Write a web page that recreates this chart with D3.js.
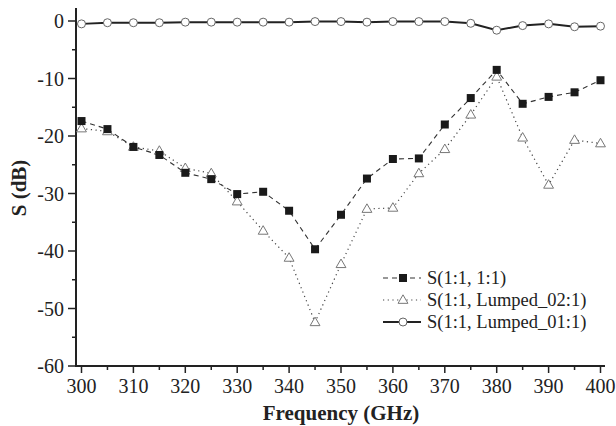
<!DOCTYPE html>
<html><head><meta charset="utf-8">
<script src="https://cdn.jsdelivr.net/npm/d3@7"></script>
<style>html,body{margin:0;padding:0;background:#fff}svg{display:block}</style>
</head><body>
<svg id="c" width="616" height="426"></svg>
<script>
const freqs = [300,305,310,315,320,325,330,335,340,345,350,355,360,365,370,375,380,385,390,395,400];
const s11 = [-17.4,-18.8,-21.9,-23.3,-26.4,-27.5,-30.1,-29.7,-33.0,-39.7,-33.7,-27.4,-24.0,-23.9,-18.0,-13.4,-8.5,-14.4,-13.2,-12.4,-10.3];
const lumped02 = [-18.7,-19.2,-21.9,-22.6,-25.6,-26.5,-31.4,-36.5,-41.2,-52.4,-42.3,-32.7,-32.5,-26.5,-22.3,-16.3,-9.7,-20.3,-28.5,-20.7,-21.3];
const lumped01 = [-0.5,-0.3,-0.3,-0.3,-0.2,-0.2,-0.2,-0.2,-0.2,-0.1,-0.1,-0.2,-0.1,-0.1,-0.1,-0.4,-1.6,-0.8,-0.5,-1.0,-0.9];
const seriesNames = ["S(1:1, 1:1)","S(1:1, Lumped_02:1)","S(1:1, Lumped_01:1)"];
const xTicks = [300,310,320,330,340,350,360,370,380,390,400];
const yTicks = [0,-10,-20,-30,-40,-50,-60];

const svg = d3.select("#c");
const x = d3.scaleLinear().domain([300,400]).range([81.5,600.5]);
const y = d3.scaleLinear().domain([-60,0]).range([366,21]);
const x0 = 76, xEnd = 605, yTop = 8, yBot = 366;
const font = "'Liberation Serif','Times New Roman',serif";

// axes lines
svg.append("line").attr("x1",x0).attr("x2",x0).attr("y1",yTop).attr("y2",yBot+1).attr("stroke","#222").attr("stroke-width",2);
svg.append("line").attr("x1",x0-1).attr("x2",xEnd).attr("y1",yBot).attr("y2",yBot).attr("stroke","#222").attr("stroke-width",2);

// x ticks
const xMinor = d3.range(305,400,10);
svg.selectAll(".xt").data(xTicks).enter().append("line").attr("x1",d=>x(d)).attr("x2",d=>x(d)).attr("y1",yBot).attr("y2",yBot+7).attr("stroke","#222").attr("stroke-width",1.5);
svg.selectAll(".xm").data(xMinor).enter().append("line").attr("x1",d=>x(d)).attr("x2",d=>x(d)).attr("y1",yBot).attr("y2",yBot+4).attr("stroke","#222").attr("stroke-width",1.5);
svg.selectAll(".xl").data(xTicks).enter().append("text").attr("x",d=>x(d)).attr("y",393).attr("text-anchor","middle").attr("font-family",font).attr("font-size",20).attr("fill","#222").text(d=>d);

// y ticks
const yMinor = d3.range(-55,0,10);
svg.selectAll(".yt").data(yTicks).enter().append("line").attr("x1",x0-8).attr("x2",x0).attr("y1",d=>y(d)).attr("y2",d=>y(d)).attr("stroke","#222").attr("stroke-width",1.5);
svg.selectAll(".ym").data(yMinor).enter().append("line").attr("x1",x0-4).attr("x2",x0).attr("y1",d=>y(d)).attr("y2",d=>y(d)).attr("stroke","#222").attr("stroke-width",1.5);
svg.selectAll(".yl").data(yTicks).enter().append("text").attr("x",64).attr("y",d=>y(d)).attr("dy","0.35em").attr("text-anchor","end").attr("font-family",font).attr("font-size",20).attr("fill","#222").text(d=>d);

// axis titles
svg.append("text").attr("x",341).attr("y",420).attr("text-anchor","middle").attr("font-family",font).attr("font-weight","bold").attr("font-size",21).attr("fill","#222").text("Frequency (GHz)");
svg.append("text").attr("transform","translate(26,188) rotate(-90)").attr("text-anchor","middle").attr("font-family",font).attr("font-weight","bold").attr("font-size",21).attr("fill","#222").text("S (dB)");

const line = d3.line().x(d=>x(d[0])).y(d=>y(d[1]));
const zip = vals => freqs.map((f,i)=>[f,vals[i]]);

// series 2 dotted triangles
const tri = d3.symbol().type(d3.symbolTriangle).size(42);
svg.append("path").datum(zip(lumped02)).attr("d",line).attr("fill","none").attr("stroke","#444").attr("stroke-width",1.2).attr("stroke-dasharray","1.2,3.5");
// series 1 dashed squares
svg.append("path").datum(zip(s11)).attr("d",line).attr("fill","none").attr("stroke","#333").attr("stroke-width",1.1).attr("stroke-dasharray","5,4");
// series 3 solid
svg.append("path").datum(zip(lumped01)).attr("d",line).attr("fill","none").attr("stroke","#222").attr("stroke-width",2);

svg.selectAll(".tri").data(zip(lumped02)).enter().append("path").attr("d",tri).attr("transform",d=>`translate(${x(d[0])},${y(d[1])+0.5})`).attr("fill","#fff").attr("stroke","#777").attr("stroke-width",1);
svg.selectAll(".sq").data(zip(s11)).enter().append("rect").attr("x",d=>x(d[0])-4).attr("y",d=>y(d[1])-4).attr("width",8).attr("height",8).attr("fill","#1a1a1a");
svg.selectAll(".ci").data(zip(lumped01)).enter().append("circle").attr("cx",d=>x(d[0])).attr("cy",d=>y(d[1])).attr("r",4).attr("fill","#fff").attr("stroke","#666").attr("stroke-width",1);

// legend
const lg = svg.append("g");
const rows = [278,300,322];
const lx1 = 383, lx2 = 421, lm = 403, lt = 427;
lg.append("line").attr("x1",lx1).attr("x2",lx2).attr("y1",rows[0]).attr("y2",rows[0]).attr("stroke","#333").attr("stroke-width",1.1).attr("stroke-dasharray","5,4");
lg.append("rect").attr("x",lm-4).attr("y",rows[0]-4).attr("width",8).attr("height",8).attr("fill","#1a1a1a");
lg.append("line").attr("x1",lx1).attr("x2",lx2).attr("y1",rows[1]).attr("y2",rows[1]).attr("stroke","#444").attr("stroke-width",1.2).attr("stroke-dasharray","1.2,3.5");
lg.append("path").attr("d",tri).attr("transform",`translate(${lm},${rows[1]+0.5})`).attr("fill","#fff").attr("stroke","#777");
lg.append("line").attr("x1",lx1).attr("x2",lx2).attr("y1",rows[2]).attr("y2",rows[2]).attr("stroke","#222").attr("stroke-width",2);
lg.append("circle").attr("cx",lm).attr("cy",rows[2]).attr("r",4).attr("fill","#fff").attr("stroke","#666");
lg.selectAll("text").data(seriesNames).enter().append("text").attr("x",lt).attr("y",(d,i)=>rows[i]).attr("dy","0.35em").attr("font-family",font).attr("font-size",18.5).attr("fill","#222").text(d=>d);
</script>
</body></html>
